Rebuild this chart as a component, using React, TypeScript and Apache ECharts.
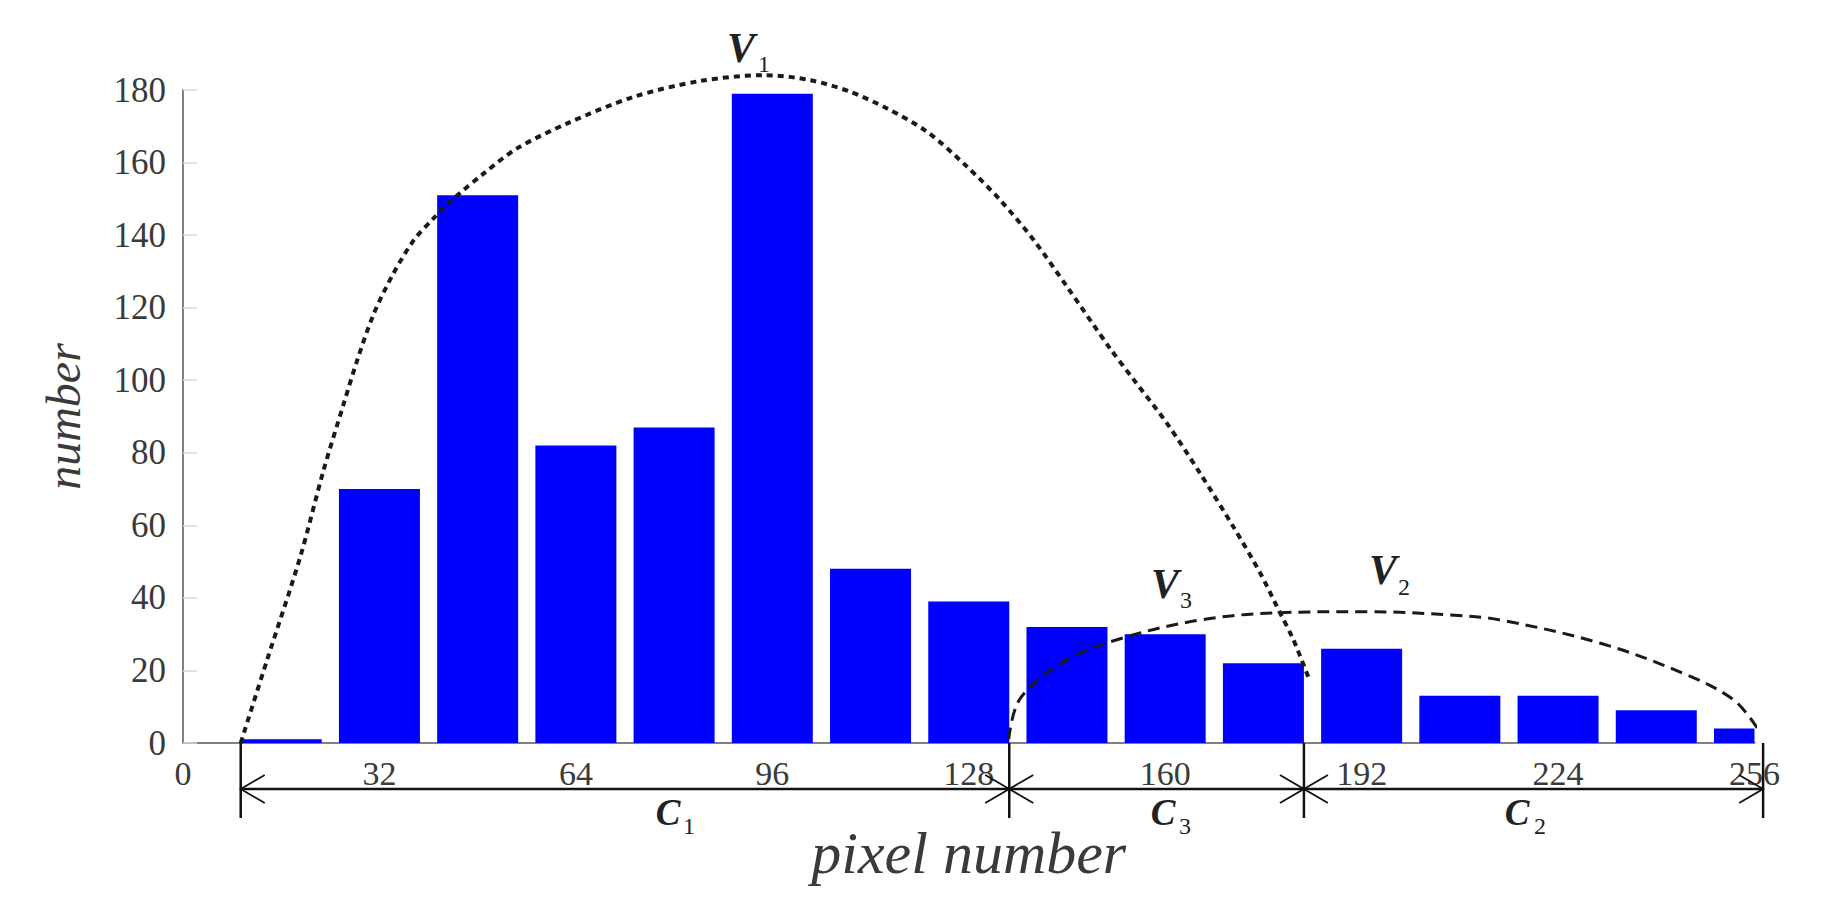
import React, { useEffect, useRef } from "react";
import * as echarts from "echarts";

// Histogram bins (centre of each 16-wide bin) and their counts
const binCenters = [16, 32, 48, 64, 80, 96, 112, 128, 144, 160, 176, 192, 208, 224, 240, 256];
const pixelCounts = [1, 70, 151, 82, 87, 179, 48, 39, 32, 30, 22, 26, 13, 13, 9, 4];

// Dashed envelope V1 (data units)
const v1X = [9.4, 13.7, 19.1, 22.9, 26.2, 28.4, 31.1, 34.3, 37.6, 40.8, 44.1, 49.0, 54.4, 62.6, 73.4, 84.3, 94.6, 102.2, 108.7, 114.7, 121.2, 127.7, 133.1, 138.6, 144, 151, 154.9, 160.3, 165.7, 171.1, 175.5, 178.2, 180.9, 183.4];
const v1Y = [0, 22.9, 51.3, 75.2, 93.6, 105.6, 118.4, 129.5, 138.6, 144.6, 150.1, 157, 163.9, 170.8, 178.1, 182.5, 184.1, 182.7, 179.5, 174.9, 168.5, 158.9, 149.7, 138.6, 125.8, 108.8, 100.1, 88.1, 74.3, 59.6, 46.8, 37.6, 28.4, 17.8];

// Dashed envelope V3 + V2 (one arc)
const v23X = [134.5, 136.4, 144, 153.8, 165.7, 178.2, 192.9, 206.4, 214.6, 230.9, 244.4, 252.6, 256.5];
const v23Y = [1, 12.3, 22.9, 29.3, 33.9, 35.9, 36.2, 35.3, 33.9, 27.5, 19.2, 11.9, 4];

// Class ranges C1, C3, C2 along the x axis
const clusterBounds = [9.4, 134.6, 182.6, 257.4];
const clusterNames = ["C", "C", "C"];
const clusterSubs = ["1", "3", "2"];

const SERIF = "'Liberation Serif', 'DejaVu Serif', serif";

export default function App() {
  const ref = useRef<HTMLDivElement>(null);

  useEffect(() => {
    if (!ref.current) return;
    const chart = echarts.init(ref.current, null, { renderer: "svg" });
    const BAR_HALF = 40.5;

    const option: any = {
      animation: false,
      backgroundColor: "#ffffff",
      grid: { left: 183, right: 77.5, top: 90, bottom: 168, containLabel: false },
      xAxis: {
        type: "value",
        min: 0,
        max: 256,
        interval: 32,
        axisLine: { show: true, lineStyle: { color: "#808080", width: 2 } },
        axisTick: { show: false },
        splitLine: { show: false },
        axisLabel: { color: "#3a3a3a", fontFamily: SERIF, fontSize: 34, margin: 13 },
        name: "pixel number",
        nameLocation: "middle",
        nameGap: 80,
        nameTextStyle: { color: "#3a3a3a", fontFamily: SERIF, fontStyle: "italic", fontSize: 60 },
      },
      yAxis: {
        type: "value",
        min: 0,
        max: 180,
        interval: 20,
        axisLine: { show: true, lineStyle: { color: "#808080", width: 2 } },
        axisTick: { show: true, inside: true, length: 14, lineStyle: { color: "#d8d8d8", width: 1.5 } },
        splitLine: { show: false },
        axisLabel: { color: "#3a3a3a", fontFamily: SERIF, fontSize: 35, margin: 17 },
        name: "number",
        nameLocation: "middle",
        nameRotate: 90,
        nameGap: 96,
        nameTextStyle: { color: "#3a3a3a", fontFamily: SERIF, fontStyle: "italic", fontSize: 48 },
      },
      series: [
        {
          type: "custom",
          data: binCenters.map((x, i) => [x, pixelCounts[i]]),
          encode: { x: 0, y: 1 },
          clip: true,
          z: 2,
          renderItem: (params: any, api: any) => {
            const base = api.coord([api.value(0), 0]);
            const top = api.coord([api.value(0), api.value(1)]);
            const cs = params.coordSys;
            const shape = echarts.graphic.clipRectByRect(
              { x: base[0] - BAR_HALF, y: top[1], width: BAR_HALF * 2, height: base[1] - top[1] },
              { x: cs.x, y: cs.y, width: cs.width, height: cs.height }
            );
            return shape && { type: "rect", shape, style: { fill: "#0000ff" } };
          },
        },
        {
          type: "line",
          data: v1X.map((x, i) => [x, v1Y[i]]),
          smooth: 0.3,
          showSymbol: false,
          symbol: "none",
          clip: false,
          lineStyle: { color: "#1a1a1a", width: 4, type: [6, 5] },
          z: 3,
        },
        {
          type: "line",
          data: v23X.map((x, i) => [x, v23Y[i]]),
          smooth: 0.35,
          showSymbol: false,
          symbol: "none",
          clip: false,
          lineStyle: { color: "#1a1a1a", width: 3, type: [12, 7] },
          z: 3,
        },
      ],
    };
    chart.setOption(option);

    const toPx = (x: number, y: number) =>
      chart.convertToPixel({ xAxisIndex: 0, yAxisIndex: 0 }, [x, y]) as number[];
    const axisY = toPx(0, 0)[1];
    const dimY = 789;
    const tickBottom = 818;
    const headDx = 24;
    const headDy = 14;
    const stroke = "#111111";

    const g: any[] = [];
    const bx = clusterBounds.map((b) => toPx(b, 0)[0]);
    bx.forEach((x) => {
      g.push({
        type: "line",
        shape: { x1: x, y1: axisY, x2: x, y2: tickBottom },
        style: { stroke, lineWidth: 2.5 },
        z: 10,
      });
    });
    g.push({
      type: "line",
      shape: { x1: bx[0], y1: dimY, x2: bx[bx.length - 1], y2: dimY },
      style: { stroke, lineWidth: 2.5 },
      z: 10,
    });
    for (let i = 0; i < bx.length - 1; i++) {
      const a = bx[i];
      const b = bx[i + 1];
      g.push({
        type: "polyline",
        shape: { points: [[a + headDx, dimY - headDy], [a, dimY], [a + headDx, dimY + headDy]] },
        style: { stroke, lineWidth: 1.8, fill: "none" },
        z: 10,
      });
      g.push({
        type: "polyline",
        shape: { points: [[b - headDx, dimY - headDy], [b, dimY], [b - headDx, dimY + headDy]] },
        style: { stroke, lineWidth: 1.8, fill: "none" },
        z: 10,
      });
    }

    const label = (main: string, sub: string, mx: number, my: number, sx: number, sy: number, size: number) => {
      g.push({
        type: "text",
        x: mx,
        y: my,
        style: {
          text: main,
          fontFamily: SERIF,
          fontSize: size,
          fontWeight: "bold",
          fontStyle: "italic",
          fill: "#222",
          align: "center",
          verticalAlign: "middle",
        },
        z: 11,
      });
      g.push({
        type: "text",
        x: sx,
        y: sy,
        style: {
          text: sub,
          fontFamily: SERIF,
          fontSize: 24,
          fill: "#222",
          align: "center",
          verticalAlign: "middle",
        },
        z: 11,
      });
    };

    label("V", "1", 741, 48, 764, 64, 42);
    label("V", "3", 1165, 584, 1186, 600, 42);
    label("V", "2", 1383, 570, 1404, 587, 42);

    const cMain = [668, 1163, 1517];
    const cSub = [689, 1185, 1540];
    clusterNames.forEach((n, i) => label(n, clusterSubs[i], cMain[i], 812, cSub[i], 826, 37));

    chart.setOption({ graphic: g });

    return () => chart.dispose();
  }, []);

  return (
    <div
      ref={ref}
      style={{ position: "fixed", left: 0, top: 0, width: 1832, height: 911, background: "#fff" }}
    />
  );
}
